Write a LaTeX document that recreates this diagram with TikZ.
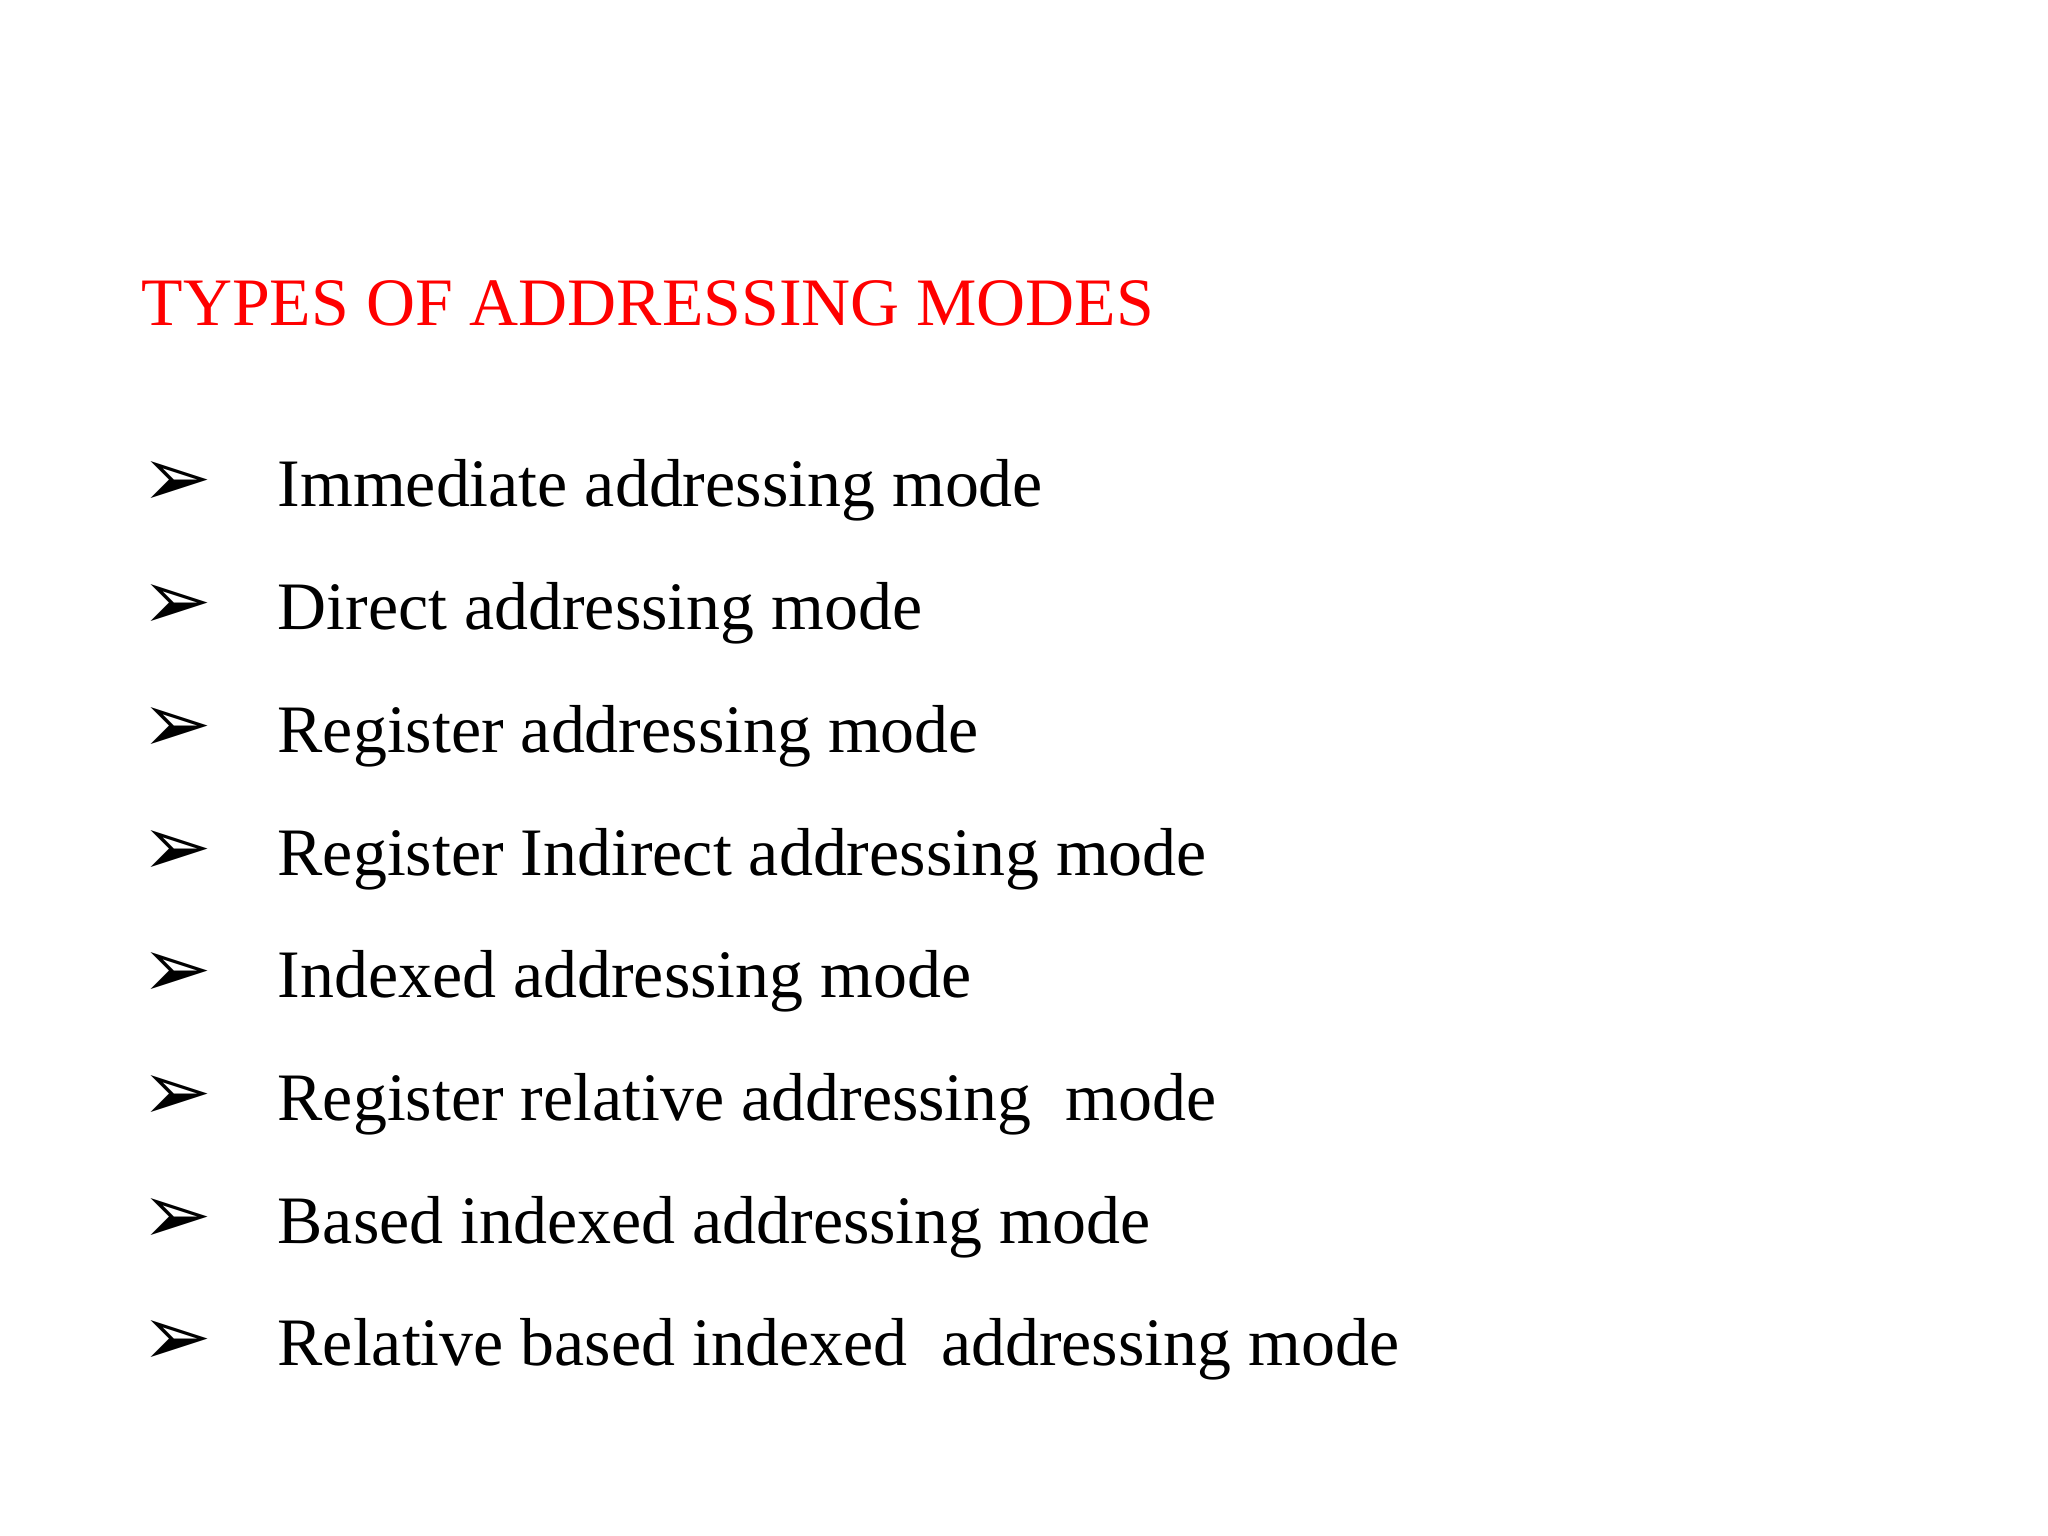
\documentclass[tikz,border=0pt]{standalone}
\usepackage{fontspec}
\setmainfont{Liberation Serif}
\newfontfamily\symfont{DejaVu Sans}
\begin{document}
\begin{tikzpicture}[x=0.01cm,y=0.01cm,
  itemtext/.style={anchor=base west,inner sep=0pt,font=\fontsize{19.3pt}{23pt}\selectfont},
  bul/.style={anchor=base west,inner sep=0pt,font=\symfont\bfseries\fontsize{24pt}{28pt}\selectfont}]
\useasboundingbox (0,0) rectangle (2048,1536);
\node[anchor=base west,inner sep=0pt,text={rgb,255:red,255;green,0;blue,0},font=\fontsize{19.3pt}{23pt}\selectfont] (title) at (141,1210) {TYPES OF ADDRESSING MODES};
\foreach \t [count=\i] in {Immediate addressing mode,Direct addressing mode,Register addressing mode,Register Indirect addressing mode,Indexed addressing mode,Register relative addressing\ \ mode,Based indexed addressing mode,Relative based indexed\ \ addressing mode}{
  \pgfmathsetmacro{\yy}{1536-507-(\i-1)*122.7}
  \node[bul] (b\i) at (141,\yy) {➢};
  \node[itemtext] (t\i) at (277,\yy) {\t};
}
\end{tikzpicture}
\end{document}
